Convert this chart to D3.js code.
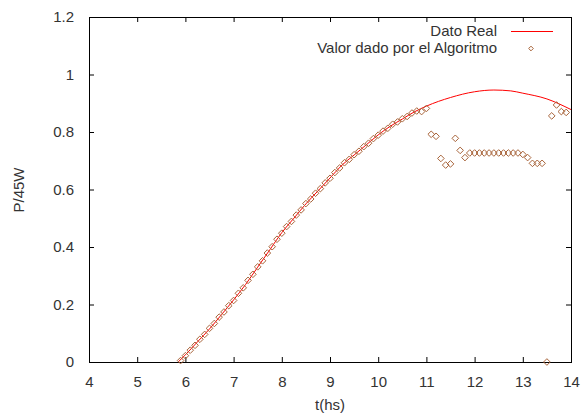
<!DOCTYPE html>
<html>
<head>
<meta charset="utf-8">
<script src="https://cdn.jsdelivr.net/npm/d3@7"></script>
<style>
  body { margin: 0; background: #fff; }
  text { font-family: "Liberation Sans", Arial, sans-serif; fill: #333; }
</style>
</head>
<body>
<div id="chart"></div>
<script>
// "Dato Real" curve
const realT = [5.85, 6.0, 6.25, 6.5, 6.75, 7.0, 7.25, 7.5, 7.75, 8.0, 8.25, 8.5, 8.75, 9.0, 9.25, 9.5, 9.75, 10.0, 10.25, 10.5, 10.75, 11.0, 11.5, 12.0, 12.4, 12.75, 13.0, 13.5, 14.0];
const realP = [0.0, 0.025, 0.07, 0.115, 0.165, 0.216, 0.27, 0.33, 0.39, 0.45, 0.50, 0.55, 0.595, 0.64, 0.685, 0.72, 0.755, 0.79, 0.82, 0.845, 0.87, 0.89, 0.92, 0.94, 0.946, 0.943, 0.935, 0.915, 0.878];

// "Valor dado por el Algoritmo" points
const algoT = [5.9, 6.0, 6.1, 6.2, 6.3, 6.4, 6.5, 6.6, 6.7, 6.8, 6.9,
  7.0, 7.1, 7.2, 7.3, 7.4, 7.5, 7.6, 7.7, 7.8, 7.9,
  8.0, 8.1, 8.2, 8.3, 8.4, 8.5, 8.6, 8.7, 8.8, 8.9,
  9.0, 9.1, 9.2, 9.3, 9.4, 9.5, 9.6, 9.7, 9.8, 9.9,
  10.0, 10.1, 10.2, 10.3, 10.4, 10.5, 10.6, 10.7, 10.8, 10.9,
  11.0, 11.1, 11.2, 11.3, 11.4, 11.5, 11.6, 11.7, 11.8, 11.9,
  12.0, 12.1, 12.2, 12.3, 12.4, 12.5, 12.6, 12.7, 12.8, 12.9,
  13.0, 13.1, 13.2, 13.3, 13.4, 13.5, 13.6, 13.7, 13.8, 13.9];
const algoP = [0.005, 0.022, 0.041, 0.058, 0.079, 0.096, 0.117, 0.134, 0.156, 0.174, 0.196,
  0.214, 0.239, 0.258, 0.284, 0.305, 0.331, 0.352, 0.379, 0.401, 0.427,
  0.448, 0.471, 0.489, 0.511, 0.529, 0.551, 0.567, 0.587, 0.603, 0.623,
  0.639, 0.659, 0.675, 0.693, 0.705, 0.721, 0.733, 0.749, 0.761, 0.777,
  0.789, 0.803, 0.813, 0.827, 0.835, 0.846, 0.854, 0.866, 0.873, 0.871,
  0.882, 0.792, 0.785, 0.708, 0.685, 0.689, 0.778, 0.736, 0.711, 0.727,
  0.727, 0.727, 0.727, 0.727, 0.727, 0.727, 0.727, 0.727, 0.727, 0.727,
  0.722, 0.711, 0.691, 0.691, 0.691, 0.0, 0.856, 0.894, 0.871, 0.868];

const xTicks = [4, 5, 6, 7, 8, 9, 10, 11, 12, 13, 14];
const yTicks = [0, 0.2, 0.4, 0.6, 0.8, 1, 1.2];

const W = 582, H = 414;
const margin = { top: 17, right: 11, bottom: 52, left: 89 };
const width = W - margin.left - margin.right;
const height = H - margin.top - margin.bottom;

const svg = d3.select("#chart").append("svg")
  .attr("width", W)
  .attr("height", H);

const g = svg.append("g")
  .attr("transform", `translate(${margin.left},${margin.top})`);

const x = d3.scaleLinear().domain([4, 14]).range([0, width]);
const y = d3.scaleLinear().domain([0, 1.2]).range([height, 0]);

const fmt = d => String(+d.toFixed(1));

// axes with inward ticks, mirrored on top and right
const styleAxis = sel => {
  sel.select(".domain").remove();
  sel.selectAll(".tick line").attr("stroke", "#000");
  sel.selectAll("text").style("font-size", "15px").attr("fill", "#333");
};

g.append("g")
  .attr("transform", `translate(0,${height})`)
  .call(d3.axisBottom(x).tickValues(xTicks).tickFormat(fmt).tickSize(-5).tickPadding(14))
  .call(styleAxis);

g.append("g")
  .call(d3.axisTop(x).tickValues(xTicks.slice(1, -1)).tickFormat("").tickSize(-5))
  .call(styleAxis);

g.append("g")
  .call(d3.axisLeft(y).tickValues(yTicks).tickFormat(fmt).tickSize(-5).tickPadding(15))
  .call(styleAxis);

g.append("g")
  .attr("transform", `translate(${width},0)`)
  .call(d3.axisRight(y).tickValues(yTicks.slice(1, -1)).tickFormat("").tickSize(-5))
  .call(styleAxis);

g.append("rect")
  .attr("x", 0.5).attr("y", 0.5)
  .attr("width", width).attr("height", height)
  .attr("fill", "none")
  .attr("stroke", "#000");

// real curve
const realData = realT.map((t, i) => ({ t, p: realP[i] }));
const line = d3.line()
  .x(d => x(d.t))
  .y(d => y(d.p))
  .curve(d3.curveMonotoneX);

g.append("path")
  .datum(realData)
  .attr("d", line)
  .attr("fill", "none")
  .attr("stroke", "#ff0000")
  .attr("stroke-width", 1);

// algorithm points (open diamonds)
const algoData = algoT.map((t, i) => ({ t, p: algoP[i] }));
const diamond = d3.symbol().type(d3.symbolDiamond2).size(28);

g.selectAll(".pt")
  .data(algoData)
  .enter().append("path")
  .attr("class", "pt")
  .attr("d", diamond)
  .attr("transform", d => `translate(${x(d.t)},${y(d.p)})`)
  .attr("fill", "none")
  .attr("stroke", "#a8643a")
  .attr("stroke-width", 1);

// legend
const legend = svg.append("g");
legend.append("text")
  .attr("x", 497).attr("y", 36)
  .attr("text-anchor", "end")
  .style("font-size", "15px")
  .text("Dato Real");
legend.append("line")
  .attr("x1", 511).attr("x2", 553)
  .attr("y1", 31.5).attr("y2", 31.5)
  .attr("stroke", "#ff0000");
legend.append("text")
  .attr("x", 497).attr("y", 53)
  .attr("text-anchor", "end")
  .style("font-size", "15px")
  .text("Valor dado por el Algoritmo");
legend.append("path")
  .attr("d", d3.symbol().type(d3.symbolDiamond2).size(14))
  .attr("transform", "translate(531,48.5)")
  .attr("fill", "none")
  .attr("stroke", "#a8643a");

// axis titles
svg.append("text")
  .attr("x", 330).attr("y", 410)
  .attr("text-anchor", "middle")
  .style("font-size", "15px")
  .text("t(hs)");

svg.append("text")
  .attr("transform", "translate(24,190) rotate(-90)")
  .attr("text-anchor", "middle")
  .style("font-size", "15px")
  .text("P/45W");
</script>
</body>
</html>
